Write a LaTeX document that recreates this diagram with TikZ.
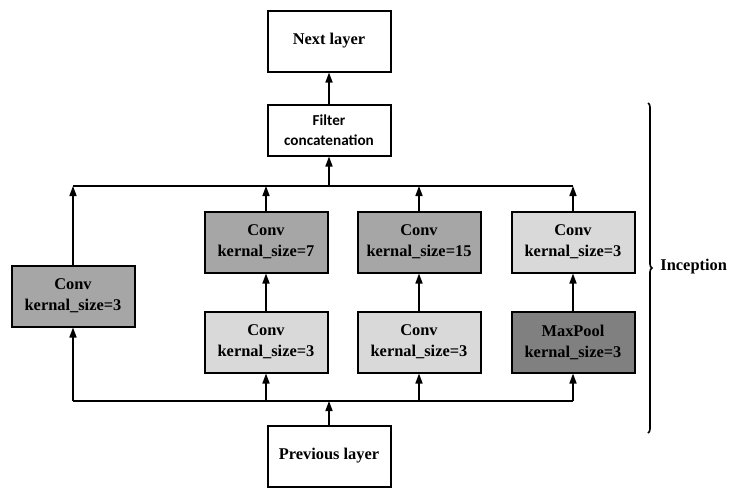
\documentclass[tikz,border=0pt]{standalone}
\usepackage{fontspec}
\setmainfont{Liberation Serif}
\newfontfamily\calibrifont{Carlito}
\usepackage{xcolor}
\usetikzlibrary{arrows.meta,decorations.pathreplacing}
\definecolor{ConvDark}{RGB}{166,166,166}
\definecolor{ConvLight}{RGB}{217,217,217}
\definecolor{PoolDark}{RGB}{128,128,128}

\begin{document}
\begin{tikzpicture}[x=0.5pt, y=-0.5pt, line width=0.8pt,
        every node/.append style={font=\bfseries\fontsize{8.2}{10.5}\selectfont, align=center}]
      \tikzstyle{layer} = [draw, line width=1pt, minimum width=61.5pt, minimum height=30.5pt, inner sep=0pt]
      \tikzstyle{dark} = [layer, fill=ConvDark]
      \tikzstyle{light} = [layer, fill=ConvLight]
      \tikzstyle{pool} = [layer, fill=PoolDark]
      \tikzstyle{up} = [-{Triangle[length=5pt,width=3.5pt]}]
      \useasboundingbox (0,0) rectangle (730,500);
      % outer layers
      \node (next) [layer] at (329,41) {Next layer};
      \node (concat) [layer, minimum height=25.5pt, font=\calibrifont\bfseries\fontsize{7.6}{10}\selectfont] at (329,130) {Filter\\concatenation};
      \node (prev) [layer] at (329,456) {Previous layer};
      % branches
      \node (conv1) [dark] at (73,296) {Conv\\kernal\_size=3};
      \node (conv7) [dark] at (266,242) {Conv\\kernal\_size=7};
      \node (conv3a) [light] at (266,342) {Conv\\kernal\_size=3};
      \node (conv15) [dark] at (419,242) {Conv\\kernal\_size=15};
      \node (conv3b) [light] at (419,342) {Conv\\kernal\_size=3};
      \node (conv3c) [light] at (573,242) {Conv\\kernal\_size=3};
      \node (maxpool) [pool] at (573,342) {MaxPool\\kernal\_size=3};
      \coordinate (topbus) at (329,186);
      \coordinate (botbus) at (329,401);
      % bottom bus
      \draw[up] (prev) -- (botbus);
      \draw (conv1.south |- botbus) -- (maxpool.south |- botbus);
      \foreach \n in {conv1, conv3a, conv3b, maxpool}
        \draw[up] (\n.south |- botbus) -- (\n.south);
      \draw[up] (conv3a) -- (conv7);
      \draw[up] (conv3b) -- (conv15);
      \draw[up] (maxpool) -- (conv3c);
      % top bus
      \foreach \n in {conv1, conv7, conv15, conv3c}
        \draw[up] (\n.north) -- (\n.north |- topbus);
      \draw (conv1.north |- topbus) -- (conv3c.north |- topbus);
      \draw[up] (topbus) -- (concat);
      \draw[up] (concat) -- (next);
      % brace
      \coordinate (bracetop) at (648,103);
      \coordinate (bracebot) at (648,433);
      \draw[decorate, decoration={brace, amplitude=2pt}] (bracetop) -- (bracebot);
      \node (inception) [anchor=west] at (653,267) {Inception};
    \end{tikzpicture}
\end{document}
